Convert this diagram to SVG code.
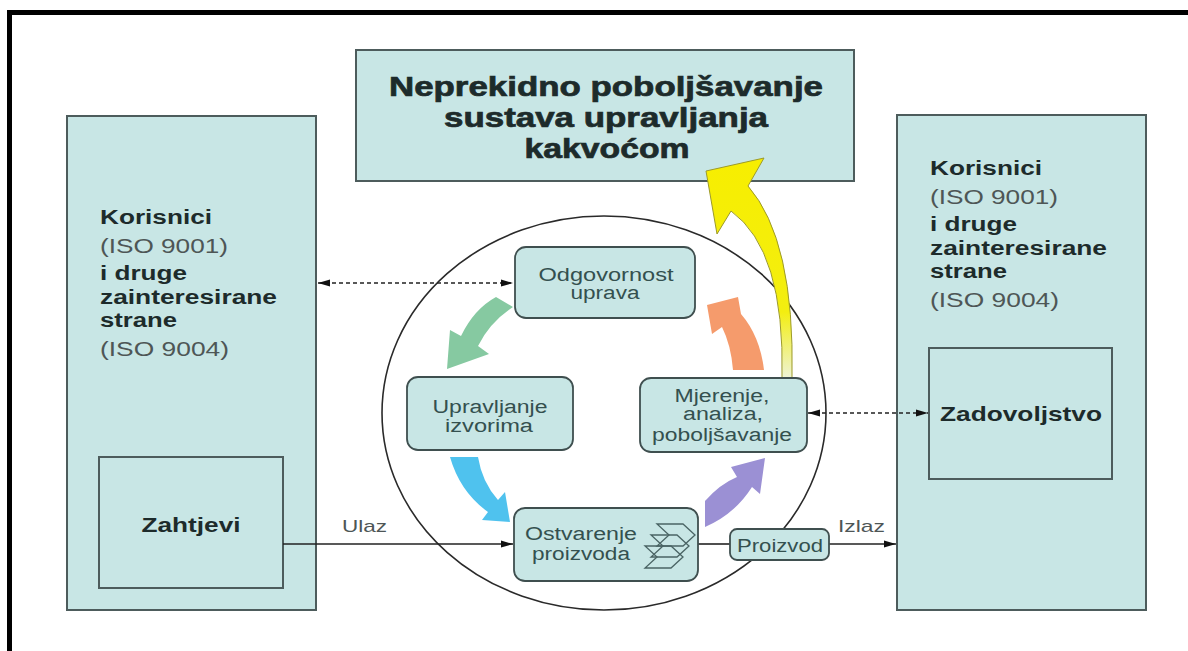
<svg xmlns="http://www.w3.org/2000/svg" width="1188" height="651" viewBox="0 0 1188 651">
<style>
.box{fill:#c8e6e5;stroke:#4d5c5c;stroke-width:2}
.rbox{fill:#c8e6e5;stroke:#3f4f4f;stroke-width:1.8}
.bt{font-family:"Liberation Sans",Arial,sans-serif;font-weight:bold;fill:#1d2b2b}
.tt{stroke:#1d2b2b;stroke-width:0.7}
.gt{font-family:"Liberation Sans",Arial,sans-serif;fill:#4e5656}
.nt{font-family:"Liberation Sans",Arial,sans-serif;fill:#34504f;font-size:18px}
.ln{stroke:#222;stroke-width:1.6;fill:none}
.dash{stroke:#222;stroke-width:1.6;fill:none;stroke-dasharray:4 3}
</style>
<defs>
<marker id="ah" markerUnits="userSpaceOnUse" markerWidth="13" markerHeight="8" refX="12" refY="4" orient="auto-start-reverse">
<path d="M0,0.5 L12,4 L0,7.5 Z" fill="#111"/>
</marker>
<linearGradient id="yg" x1="0" y1="0" x2="0" y2="1">
<stop offset="0" stop-color="#f7ee00"/>
<stop offset="0.7" stop-color="#f3ee10"/>
<stop offset="1" stop-color="#eef3d6"/>
</linearGradient>
</defs>
<rect width="1188" height="651" fill="#ffffff"/>
<rect x="7" y="10" width="1181" height="5" fill="#000"/>
<rect x="7" y="10" width="5" height="641" fill="#000"/>

<g id="left-party">
<rect class="box" x="67" y="116" width="249" height="494"/>
<text class="bt" x="100" y="224" font-size="20" textLength="112" lengthAdjust="spacingAndGlyphs">Korisnici</text>
<text class="gt" x="100" y="253" font-size="20" textLength="128" lengthAdjust="spacingAndGlyphs">(ISO 9001)</text>
<text class="bt" x="100" y="280" font-size="20" textLength="87" lengthAdjust="spacingAndGlyphs">i druge</text>
<text class="bt" x="100" y="304" font-size="20" textLength="177" lengthAdjust="spacingAndGlyphs">zainteresirane</text>
<text class="bt" x="100" y="327" font-size="20" textLength="77" lengthAdjust="spacingAndGlyphs">strane</text>
<text class="gt" x="100" y="356" font-size="20" textLength="129" lengthAdjust="spacingAndGlyphs">(ISO 9004)</text>
</g>
<g id="zahtjevi">
<rect class="box" x="99" y="457" width="184" height="131"/>
<text class="bt" x="191" y="532" font-size="21" text-anchor="middle" textLength="99" lengthAdjust="spacingAndGlyphs">Zahtjevi</text>
</g>

<g id="right-party">
<rect class="box" x="897" y="115" width="249" height="495"/>
<text class="bt" x="930" y="175" font-size="20" textLength="112" lengthAdjust="spacingAndGlyphs">Korisnici</text>
<text class="gt" x="930" y="204" font-size="20" textLength="128" lengthAdjust="spacingAndGlyphs">(ISO 9001)</text>
<text class="bt" x="930" y="231" font-size="20" textLength="87" lengthAdjust="spacingAndGlyphs">i druge</text>
<text class="bt" x="930" y="255" font-size="20" textLength="177" lengthAdjust="spacingAndGlyphs">zainteresirane</text>
<text class="bt" x="930" y="278" font-size="20" textLength="77" lengthAdjust="spacingAndGlyphs">strane</text>
<text class="gt" x="930" y="307" font-size="20" textLength="129" lengthAdjust="spacingAndGlyphs">(ISO 9004)</text>
</g>
<g id="zadovoljstvo">
<rect class="box" x="929" y="348" width="183" height="131"/>
<text class="bt" x="1021" y="421" font-size="21" text-anchor="middle" textLength="162" lengthAdjust="spacingAndGlyphs">Zadovoljstvo</text>
</g>

<g id="improvement">
<rect class="box" x="356" y="50" width="498" height="131" stroke="#3f4b4b"/>
<text class="bt tt" x="606" y="96" font-size="27" text-anchor="middle" textLength="434" lengthAdjust="spacingAndGlyphs">Neprekidno poboljšavanje</text>
<text class="bt tt" x="606" y="127" font-size="27" text-anchor="middle" textLength="324" lengthAdjust="spacingAndGlyphs">sustava upravljanja</text>
<text class="bt tt" x="607" y="158" font-size="27" text-anchor="middle" textLength="165" lengthAdjust="spacingAndGlyphs">kakvoćom</text>
</g>

<g id="cycle">
<ellipse cx="604" cy="413" rx="222" ry="197" fill="none" stroke="#2a2a2a" stroke-width="1.6"/>
</g>

<g id="connectors">
<line class="dash" x1="318" y1="283" x2="513" y2="283" marker-start="url(#ah)" marker-end="url(#ah)"/>
<line class="dash" x1="808" y1="413" x2="928" y2="413" marker-start="url(#ah)" marker-end="url(#ah)"/>
<line class="ln" x1="283" y1="544" x2="513" y2="544" marker-end="url(#ah)"/>
<line class="ln" x1="698" y1="544" x2="730" y2="544"/>
<line class="ln" x1="829" y1="544" x2="896" y2="544" marker-end="url(#ah)"/>
<text class="gt" x="342" y="532" font-size="17" textLength="45" lengthAdjust="spacingAndGlyphs">Ulaz</text>
<text class="gt" x="838" y="532" font-size="17" textLength="47" lengthAdjust="spacingAndGlyphs">Izlaz</text>
<path id="arrow-green" d="M496,297 L513,307 Q490,322 478,346 L489,354 L447,369 L450,330 L461,336 Q474,309 496,297 Z" fill="#86c9a1"/>
<path id="arrow-blue" d="M450,457 L478,457 Q482,482 498,500 L505,492 L510,522 L482,520 L488,512 Q460,492 450,457 Z" fill="#4fc2ee"/>
<path id="arrow-purple" d="M705,527 L705,501 Q720,484 737,477 L731,467 L765,458 L760,494 L752,487 Q735,514 705,527 Z" fill="#9b90d4"/>
<path id="arrow-orange" d="M733,370 L764,370 Q760,336 741,314 L738,297 L707,305 L712,334 L722,327 Q731,345 733,370 Z" fill="#f59b6c"/>
<path id="arrow-yellow" d="M782,378 Q785,250 731,211 L717,234 L706,171 L764,158 L748,186 Q795,240 792,378 Z" fill="url(#yg)" stroke="#9c9a2a" stroke-width="1"/>
</g>

<g id="odgovornost">
<rect class="rbox" x="515" y="247" width="180" height="71" rx="11"/>
<text class="nt" x="606" y="281" text-anchor="middle" textLength="135" lengthAdjust="spacingAndGlyphs">Odgovornost</text>
<text class="nt" x="605" y="299" text-anchor="middle" textLength="69" lengthAdjust="spacingAndGlyphs">uprava</text>
</g>
<g id="upravljanje">
<rect class="rbox" x="407" y="377" width="166" height="73" rx="11"/>
<text class="nt" x="490" y="413" text-anchor="middle" textLength="115" lengthAdjust="spacingAndGlyphs">Upravljanje</text>
<text class="nt" x="489" y="432" text-anchor="middle" textLength="88" lengthAdjust="spacingAndGlyphs">izvorima</text>
</g>
<g id="mjerenje">
<rect class="rbox" x="640" y="378" width="167" height="74" rx="11"/>
<text class="nt" x="722" y="402" text-anchor="middle" textLength="95" lengthAdjust="spacingAndGlyphs">Mjerenje,</text>
<text class="nt" x="723" y="420" text-anchor="middle" textLength="80" lengthAdjust="spacingAndGlyphs">analiza,</text>
<text class="nt" x="722" y="441" text-anchor="middle" textLength="140" lengthAdjust="spacingAndGlyphs">poboljšavanje</text>
</g>
<g id="ostvarenje">
<rect class="rbox" x="514" y="508" width="184" height="73" rx="11"/>
<text class="nt" x="581" y="540" text-anchor="middle" textLength="112" lengthAdjust="spacingAndGlyphs">Ostvarenje</text>
<text class="nt" x="581" y="560" text-anchor="middle" textLength="98" lengthAdjust="spacingAndGlyphs">proizvoda</text>
<g fill="none" stroke="#4a6464" stroke-width="1.3">
<polygon points="657,524 683,524 695,535 683,546 657,546 669,535"/>
<polygon points="651,535 677,535 689,546 677,557 651,557 663,546"/>
<polygon points="645,546 671,546 683,557 671,568 645,568 657,557"/>
</g>
</g>
<g id="proizvod">
<rect class="rbox" x="730" y="529" width="99" height="31" rx="7"/>
<text class="nt" x="780" y="552" text-anchor="middle" textLength="86" lengthAdjust="spacingAndGlyphs">Proizvod</text>
</g>
</svg>
